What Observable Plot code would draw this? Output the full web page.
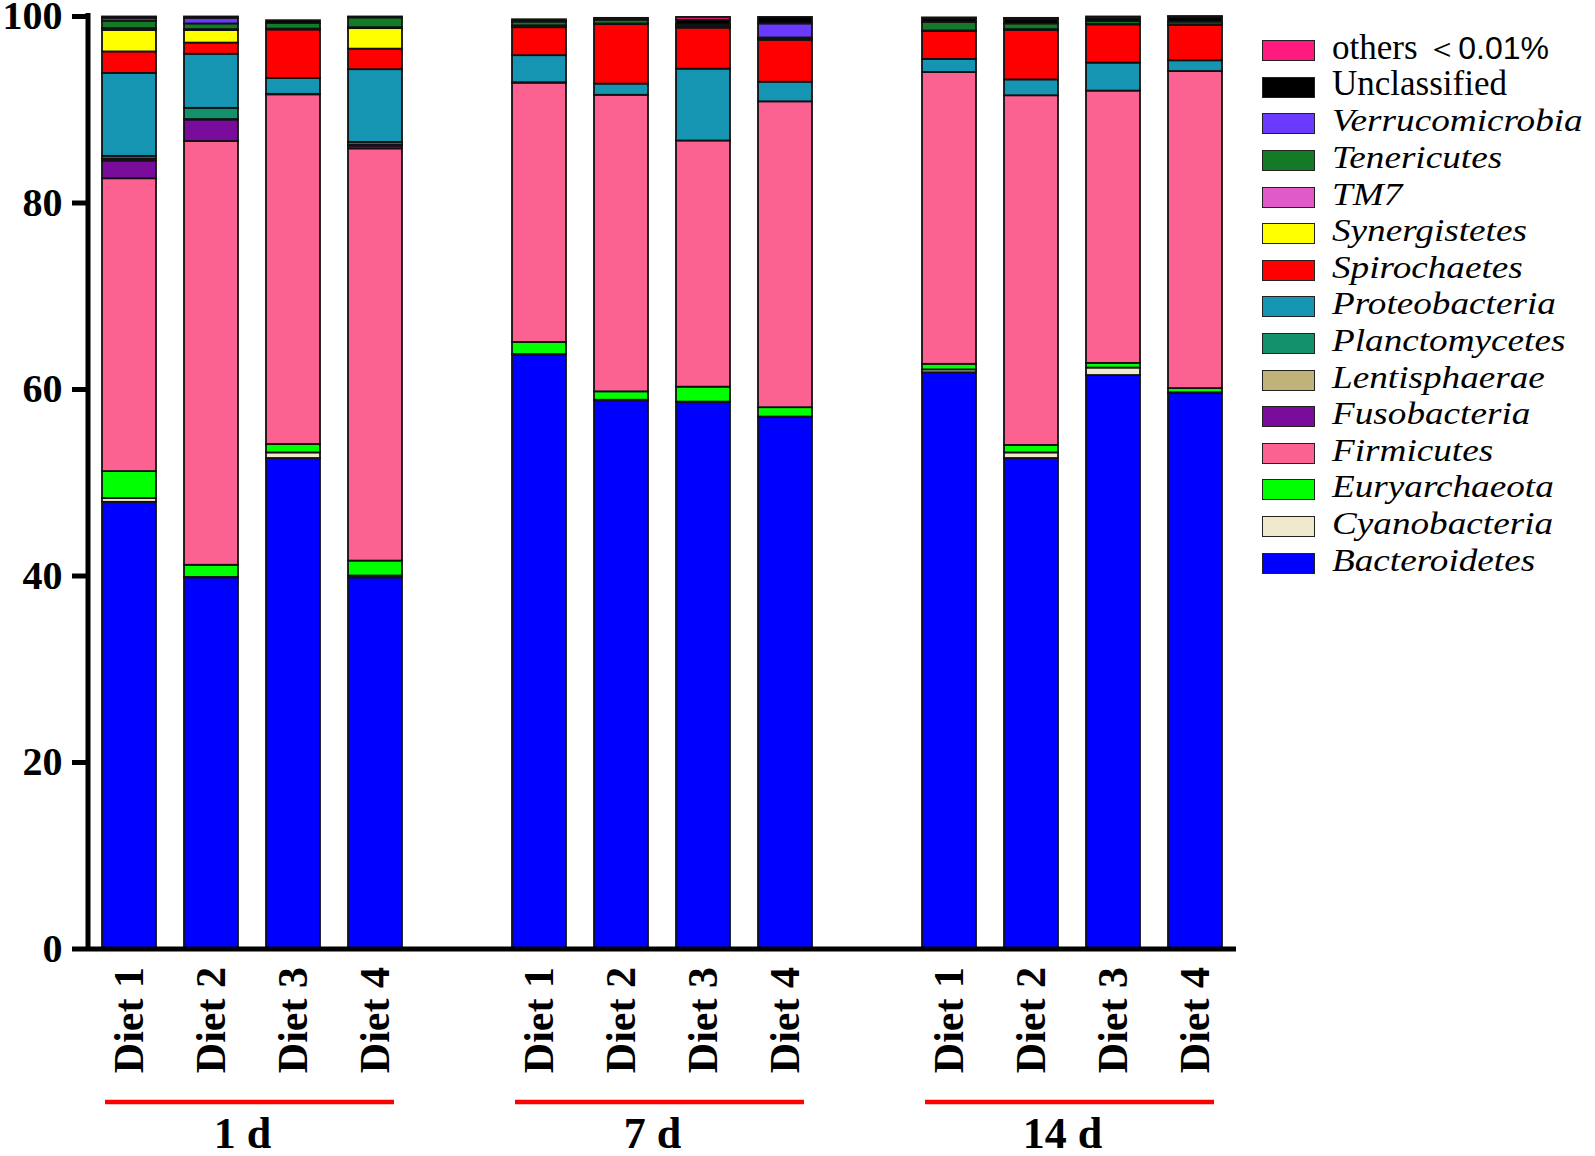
<!DOCTYPE html>
<html>
<head>
<meta charset="utf-8">
<script src="https://cdn.jsdelivr.net/npm/d3@7"></script>
<script src="https://cdn.jsdelivr.net/npm/@observablehq/plot@0.6"></script>
<style>
  html, body { margin: 0; padding: 0; background: #fff; }
  #wrap { position: relative; width: 1595px; height: 1156px; overflow: hidden; }
  #legend { position: absolute; left: 1262px; top: 32.5px; font-family: "Liberation Serif", "Times New Roman", serif; color: #000; }
  .row { display: flex; align-items: center; height: 36.6px; white-space: nowrap; }
  .sw { width: 51px; height: 19px; border: 1.5px solid #222; flex: none; }
  .lab { margin-left: 17px; line-height: 36px; }
  .it { font-style: italic; font-size: 31px; display: inline-block; transform: scaleX(1.2); transform-origin: left center; }
  .rg { font-size: 35px; }
  .sans { font-family: "Liberation Sans", Arial, sans-serif; font-size: 32px; }
</style>
</head>
<body>
<div id="wrap"><div id="chart"></div><div id="legend"></div></div>
<script>
// ---- data ----
const groups = ["1 d", "7 d", "14 d"];
const diets = ["Diet 1", "Diet 2", "Diet 3", "Diet 4"];
const yTicks = [0, 20, 40, 60, 80, 100];

// phyla from bottom of stack to top
const phyla = ["Bacteroidetes", "Cyanobacteria", "Euryarchaeota", "Firmicutes", "Fusobacteria",
  "Lentisphaerae", "Planctomycetes", "Proteobacteria", "Spirochaetes", "Synergistetes",
  "TM7", "Tenericutes", "Verrucomicrobia", "Unclassified", "others ＜0.01%"];
const colors = ["#0000ff", "#efe8cc", "#00ff00", "#fb6191", "#7a0c9c",
  "#c0b37a", "#12916a", "#1595b2", "#ff0000", "#ffff00",
  "#e05ac8", "#157a28", "#6a3bff", "#000000", "#ff1a80"];

// values in order: 1 d (Diet 1-4), 7 d (Diet 1-4), 14 d (Diet 1-4)
const bacteroidetes   = [47.9, 39.8, 52.6, 39.8, 63.7, 58.8, 58.6, 57.0, 61.8, 52.6, 61.5, 59.6];
const cyanobacteria   = [0.4, 0.05, 0.6, 0.2, 0.05, 0.05, 0.05, 0.05, 0.3, 0.6, 0.8, 0.05];
const euryarchaeota   = [2.9, 1.3, 0.9, 1.6, 1.3, 0.9, 1.6, 1.0, 0.6, 0.8, 0.5, 0.45];
const firmicutes      = [31.4, 45.45, 37.5, 44.2, 27.8, 31.8, 26.4, 32.8, 31.3, 37.5, 29.2, 34.0];
const fusobacteria    = [1.9, 2.3, 0, 0.3, 0, 0, 0, 0, 0, 0, 0, 0];
const lentisphaerae   = [0.2, 0.05, 0, 0.1, 0, 0, 0, 0, 0, 0, 0, 0];
const planctomycetes  = [0.3, 1.2, 0.05, 0.3, 0.05, 0, 0, 0, 0, 0, 0, 0];
const proteobacteria  = [8.9, 5.8, 1.7, 7.8, 2.9, 1.2, 7.7, 2.1, 1.4, 1.7, 3.0, 1.15];
const spirochaetes    = [2.3, 1.2, 5.2, 2.2, 3.0, 6.4, 4.4, 4.5, 3.0, 5.3, 4.1, 3.8];
const synergistetes   = [2.3, 1.35, 0, 2.2, 0.1, 0, 0.1, 0, 0, 0, 0, 0];
const tm7             = [0.2, 0.1, 0.1, 0.1, 0.1, 0.05, 0.05, 0.05, 0.05, 0.1, 0.05, 0.05];
const tenericutes     = [0.8, 0.6, 0.6, 1.05, 0.4, 0.4, 0.2, 0.2, 0.9, 0.6, 0.3, 0.3];
const verrucomicrobia = [0.3, 0.6, 0, 0.05, 0.05, 0, 0, 1.5, 0, 0, 0, 0];
const unclassified    = [0.1, 0.05, 0.3, 0.05, 0.2, 0.2, 0.5, 0.7, 0.4, 0.5, 0.3, 0.5];
const others          = [0.05, 0.1, 0, 0, 0, 0, 0.3, 0, 0.1, 0.1, 0.2, 0.1];

const series = [bacteroidetes, cyanobacteria, euryarchaeota, firmicutes, fusobacteria,
  lentisphaerae, planctomycetes, proteobacteria, spirochaetes, synergistetes,
  tm7, tenericutes, verrucomicrobia, unclassified, others];

// ---- build table ----
const keyOf = (g, d) => g + "|" + d;
const keys = [];
groups.forEach((g, gi) => {
  if (gi > 0) keys.push("gap" + gi);
  diets.forEach(d => keys.push(keyOf(g, d)));
});
const rows = [];
phyla.forEach((p, pi) => {
  series[pi].forEach((v, i) => {
    if (v > 0) rows.push({phylum: p, key: keyOf(groups[Math.floor(i / diets.length)], diets[i % diets.length]), value: v});
  });
});
const groupRows = groups.map(g => ({
  label: g,
  first: keyOf(g, diets[0]),
  last: keyOf(g, diets[diets.length - 1]),
  mid: keyOf(g, diets[1])
}));

const serif = "Liberation Serif, Times New Roman, serif";

const chart = Plot.plot({
  width: 1595,
  height: 1156,
  marginLeft: 88,
  marginRight: 359,
  marginTop: 16,
  marginBottom: 207.5,
  style: {fontFamily: serif, background: "transparent", overflow: "visible", color: "#000"},
  x: {domain: keys, paddingInner: 0.34, paddingOuter: 0.17, axis: null, label: null},
  y: {domain: [0, 100], axis: null, label: null},
  color: {domain: phyla, range: colors},
  marks: [
    Plot.barY(rows, {x: "key", y: "value", fill: "phylum", order: phyla, stroke: "#111", strokeWidth: 1.8}),
    Plot.axisY({ticks: yTicks, label: null, tickSize: 16, tickPadding: 10, strokeWidth: 5, fontSize: 40, fontWeight: "bold", fontFamily: serif, tickFormat: d => String(d)}),
    Plot.axisX({label: null, tickSize: 0, tickPadding: 18, tickRotate: -90, fontSize: 42, fontWeight: "bold", fontFamily: serif,
      tickFormat: k => k.startsWith("gap") ? "" : k.split("|")[1]}),
    Plot.ruleY([0], {stroke: "#000", strokeWidth: 5}),
    Plot.ruleY(groupRows, {x1: "first", x2: "last", y: () => 0, dy: 153, stroke: "#ff0000", strokeWidth: 4.5, insetLeft: 3, insetRight: 8}),
    Plot.text(groupRows, {x: "mid", y: () => 0, text: "label", dx: 31, dy: 185, fontSize: 44, fontWeight: "bold", fontFamily: serif, fill: "#000"})
  ]
});

// y axis line
const ys = chart.scale("y");
const xs = chart.scale("x");
d3.select(chart).append("line")
  .attr("x1", xs.range[0]).attr("x2", xs.range[0])
  .attr("y1", ys.apply(100) - 3).attr("y2", ys.apply(0) + 2.5)
  .attr("stroke", "#000").attr("stroke-width", 5);

document.getElementById("chart").appendChild(chart);

// ---- legend (top to bottom) ----
const legend = d3.select("#legend");
const legendOrder = phyla.map((p, i) => ({p, c: colors[i]})).reverse();
legendOrder.forEach(({p, c}) => {
  const row = legend.append("div").attr("class", "row");
  row.append("div").attr("class", "sw").style("background", c);
  const lab = row.append("div").attr("class", "lab");
  if (p === "Unclassified") {
    lab.append("span").attr("class", "rg").text(p);
  } else if (p.startsWith("others")) {
    lab.append("span").attr("class", "rg").text("others ");
    lab.append("span").attr("class", "sans").text("＜0.01%");
  } else {
    lab.append("span").attr("class", "it").text(p);
  }
});
</script>
</body>
</html>
